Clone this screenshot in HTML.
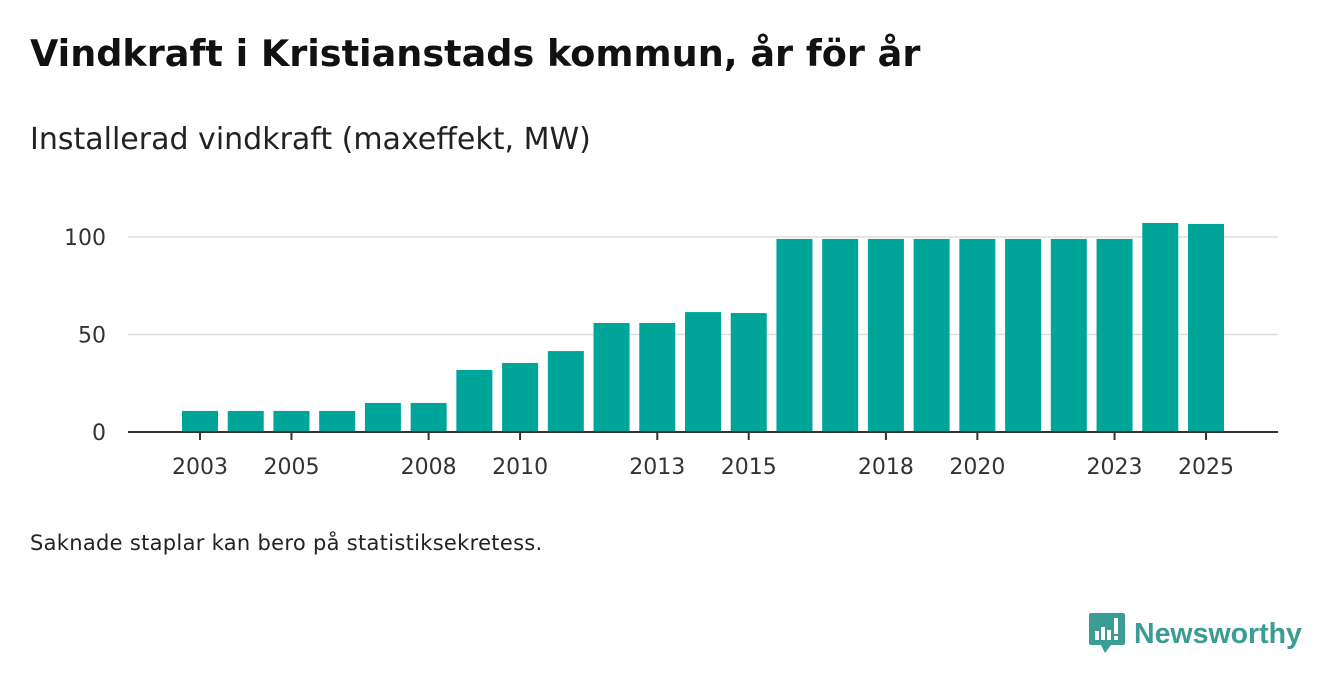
<!DOCTYPE html>
<html><head><meta charset="utf-8"><style>
body{margin:0;width:1340px;height:685px;background:#fff;font-family:"DejaVu Sans","Liberation Sans",sans-serif;overflow:hidden;position:relative}
.t{position:absolute;left:30px;top:32px;font-size:36.6px;font-weight:bold;color:#111}
.s{position:absolute;left:30px;top:122px;font-size:30px;color:#222}
.n{position:absolute;left:30px;top:531px;font-size:21px;color:#222;letter-spacing:0.3px}
</style></head><body>
<div class="t">Vindkraft i Kristianstads kommun, år för år</div>
<div class="s">Installerad vindkraft (maxeffekt, MW)</div>
<div class="n">Saknade staplar kan bero på statistiksekretess.</div>
<svg id="c" width="1340" height="685" style="position:absolute;left:0;top:0"></svg>
<div style="position:absolute;left:1089px;top:613px;display:flex;align-items:center">
<svg width="36" height="42" viewBox="0 0 36 42"><path d="M2 0h32a2 2 0 0 1 2 2v28a2 2 0 0 1-2 2H22l-6 8-4-8H2a2 2 0 0 1-2-2V2a2 2 0 0 1 2-2z" fill="#3a9c92"/><rect x="6" y="18" width="4" height="9" fill="#fff"/><rect x="12" y="14" width="4" height="13" fill="#fff"/><rect x="18" y="17" width="4" height="10" fill="#fff"/><rect x="25" y="5" width="4" height="16" fill="#fff"/><rect x="25" y="23" width="4" height="4" fill="#fff"/></svg>
<span style="margin-left:9px;font-size:28.5px;font-weight:bold;color:#3a9c92;font-family:'Liberation Sans',sans-serif">Newsworthy</span></div>
<script>
const years=[2003,2004,2005,2006,2007,2008,2009,2010,2011,2012,2013,2014,2015,2016,2017,2018,2019,2020,2021,2022,2023,2024,2025];
const values=[10.8,10.8,10.8,10.8,14.9,14.9,31.8,35.4,41.5,55.9,55.9,61.5,61,99,99,99,99,99,99,99,99,107.2,106.7];
const yTicks=[0,50,100];
const xLabels=[2003,2005,2008,2010,2013,2015,2018,2020,2023,2025];
const svg=document.getElementById('c');const NS='http://www.w3.org/2000/svg';
const y0=432,k=1.95;const yS=v=>y0-v*k;
const x0=200,step=(1206-200)/22;const xS=yr=>x0+(yr-2003)*step;
const FF='DejaVu Sans, Liberation Sans, sans-serif';
function el(t,a){const e=document.createElementNS(NS,t);for(const q in a)e.setAttribute(q,a[q]);svg.appendChild(e);return e;}
yTicks.forEach(v=>{if(v>0){const g=el('line',{x1:128,x2:1278,y1:yS(v),y2:yS(v),stroke:'#ddd','stroke-width':1.5});

}
const t=el('text',{x:106,y:yS(v)+8,'text-anchor':'end','font-size':22,fill:'#333','font-family':FF});t.textContent=v;

});
years.forEach((yr,i)=>{const r=el('rect',{x:xS(yr)-18,y:yS(values[i]),width:36,height:values[i]*k,fill:'#00a59a'});

});
const ax=el('line',{x1:128,x2:1278,y1:y0,y2:y0,stroke:'#333','stroke-width':2});


xLabels.forEach(yr=>{const tk=el('line',{x1:xS(yr),x2:xS(yr),y1:y0,y2:y0+8,stroke:'#333','stroke-width':2});


const t=el('text',{x:xS(yr),y:474,'text-anchor':'middle','font-size':22,fill:'#333','font-family':FF});t.textContent=yr;

});
</script>
</body></html>
